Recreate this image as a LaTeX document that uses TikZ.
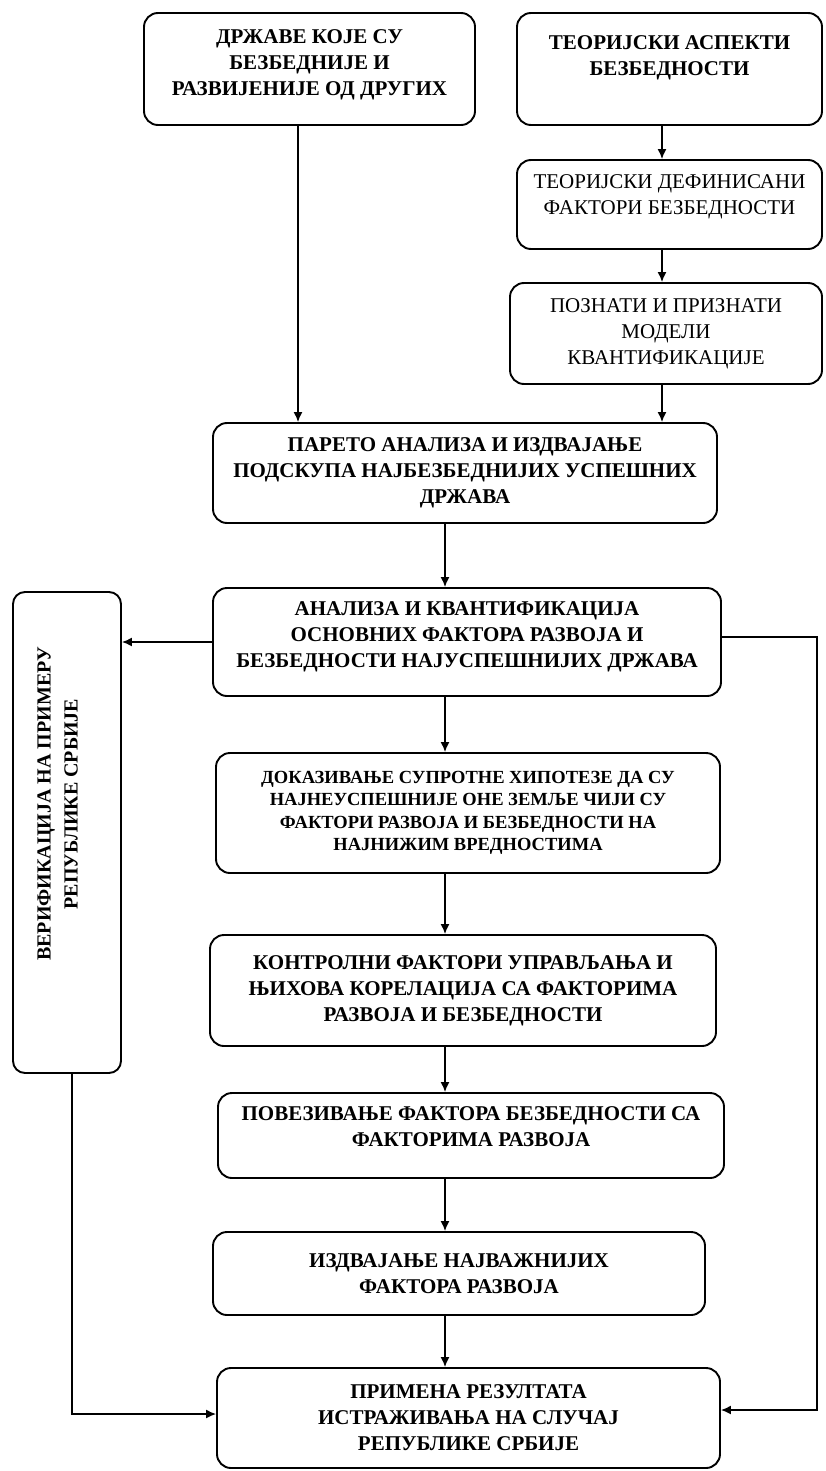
\documentclass[tikz,border=0pt]{standalone}
\usepackage{fontspec}
\setmainfont{Liberation Serif}
\usetikzlibrary{arrows.meta}
% extra empty line at the bottom of a box, lifts the text a little
\newcommand{\lowgap}[1]{\\[#1]\mbox{}}

\begin{document}
\begin{tikzpicture}[x=1pt,y=-1pt,
  stage/.style={draw=black,line width=1.9pt,rounded corners=14pt,align=center,inner sep=0pt,
    font=\fontsize{21}{26}\selectfont\bfseries},
  plainstage/.style={stage,font=\fontsize{21}{26}\selectfont},
  smallstage/.style={stage,font=\fontsize{18.5}{22.5}\selectfont\bfseries},
  link/.style={line width=1.5pt,-{Latex[length=10pt,width=9pt]}}]
\useasboundingbox (0,0) rectangle (826,1471);

% upper part
\node[stage,minimum width=331,minimum height=112] (drzave) at (309.5,69)
  {ДРЖАВЕ КОЈЕ СУ\\БЕЗБЕДНИЈЕ И\\РАЗВИЈЕНИЈЕ ОД ДРУГИХ\lowgap{-13pt}};
\node[stage,minimum width=305,minimum height=112] (aspekti) at (669.5,69)
  {ТЕОРИЈСКИ АСПЕКТИ\\БЕЗБЕДНОСТИ\lowgap{1pt}};
\node[plainstage,minimum width=305,minimum height=89] (faktori) at (669.5,204.5)
  {ТЕОРИЈСКИ ДЕФИНИСАНИ\\ФАКТОРИ БЕЗБЕДНОСТИ\lowgap{-7pt}};
\node[plainstage,minimum width=312,minimum height=101] (modeli) at (666,333.5)
  {ПОЗНАТИ И ПРИЗНАТИ\\МОДЕЛИ\\КВАНТИФИКАЦИЈЕ};

% main column
\node[stage,minimum width=504,minimum height=100] (pareto) at (465,473)
  {ПАРЕТО АНАЛИЗА И ИЗДВАЈАЊЕ\\ПОДСКУПА НАЈБЕЗБЕДНИЈИХ УСПЕШНИХ\\ДРЖАВА};
\node[stage,minimum width=508,minimum height=108] (analiza) at (467,642)
  {АНАЛИЗА И КВАНТИФИКАЦИЈА\\ОСНОВНИХ ФАКТОРА РАЗВОЈА И\\БЕЗБЕДНОСТИ НАЈУСПЕШНИЈИХ ДРЖАВА\lowgap{-12pt}};
\node[smallstage,minimum width=504,minimum height=120] (hipoteza) at (468,813)
  {ДОКАЗИВАЊЕ СУПРОТНЕ ХИПОТЕЗЕ ДА СУ\\НАЈНЕУСПЕШНИЈЕ ОНЕ ЗЕМЉЕ ЧИЈИ СУ\\ФАКТОРИ РАЗВОЈА И БЕЗБЕДНОСТИ НА\\НАЈНИЖИМ ВРЕДНОСТИМА};
\node[stage,minimum width=506,minimum height=111] (kontrola) at (463,990.5)
  {КОНТРОЛНИ ФАКТОРИ УПРАВЉАЊА И\\ЊИХОВА КОРЕЛАЦИЈА СА ФАКТОРИМА\\РАЗВОЈА И БЕЗБЕДНОСТИ};
\node[stage,minimum width=506,minimum height=85] (povezivanje) at (471,1135.5)
  {ПОВЕЗИВАЊЕ ФАКТОРА БЕЗБЕДНОСТИ СА\\ФАКТОРИМА РАЗВОЈА\lowgap{-8pt}};
\node[stage,minimum width=492,minimum height=83] (izdvajanje) at (459,1273.5)
  {ИЗДВАЈАЊЕ НАЈВАЖНИЈИХ\\ФАКТОРА РАЗВОЈА};
\node[stage,minimum width=503,minimum height=100] (primena) at (468.5,1418)
  {ПРИМЕНА РЕЗУЛТАТА\\ИСТРАЖИВАЊА НА СЛУЧАЈ\\РЕПУБЛИКЕ СРБИЈЕ};

% side box
\node[draw=black,line width=1.9pt,rounded corners=12pt,minimum width=108,minimum height=481,inner sep=0pt] (verif) at (67,832.5) {};
\node[rotate=90,align=center,font=\fontsize{20}{27}\selectfont\bfseries] (veriftext) at (57.5,804)
  {ВЕРИФИКАЦИЈА НА ПРИМЕРУ\\РЕПУБЛИКЕ СРБИЈЕ};

% connectors
\coordinate (lspine) at (298,0);
\coordinate (rspine) at (662,0);
\coordinate (spine) at (445,0);
\coordinate (rloop) at (817,0);
\coordinate (vout) at (72,0);
\coordinate (aout) at ([yshift=5pt]analiza.east);
\coordinate (kin) at ([yshift=8pt]primena.east);
\coordinate (kinl) at ([yshift=4pt]primena.west);

\draw[link] (drzave.south -| lspine) -- (pareto.north -| lspine);
\draw[link] (aspekti.south -| rspine) -- (faktori.north -| rspine);
\draw[link] (faktori.south -| rspine) -- (modeli.north -| rspine);
\draw[link] (modeli.south -| rspine) -- (pareto.north -| rspine);
\draw[link] (pareto.south -| spine) -- (analiza.north -| spine);
\draw[link] (analiza.south -| spine) -- (hipoteza.north -| spine);
\draw[link] (hipoteza.south -| spine) -- (kontrola.north -| spine);
\draw[link] (kontrola.south -| spine) -- (povezivanje.north -| spine);
\draw[link] (povezivanje.south -| spine) -- (izdvajanje.north -| spine);
\draw[link] (izdvajanje.south -| spine) -- (primena.north -| spine);
\draw[link] (analiza.west) -- (analiza.west -| verif.east);
\draw[link] (aout) -| (kin -| rloop) -- (kin);
\draw[link] (verif.south -| vout) |- (kinl);
\end{tikzpicture}
\end{document}
